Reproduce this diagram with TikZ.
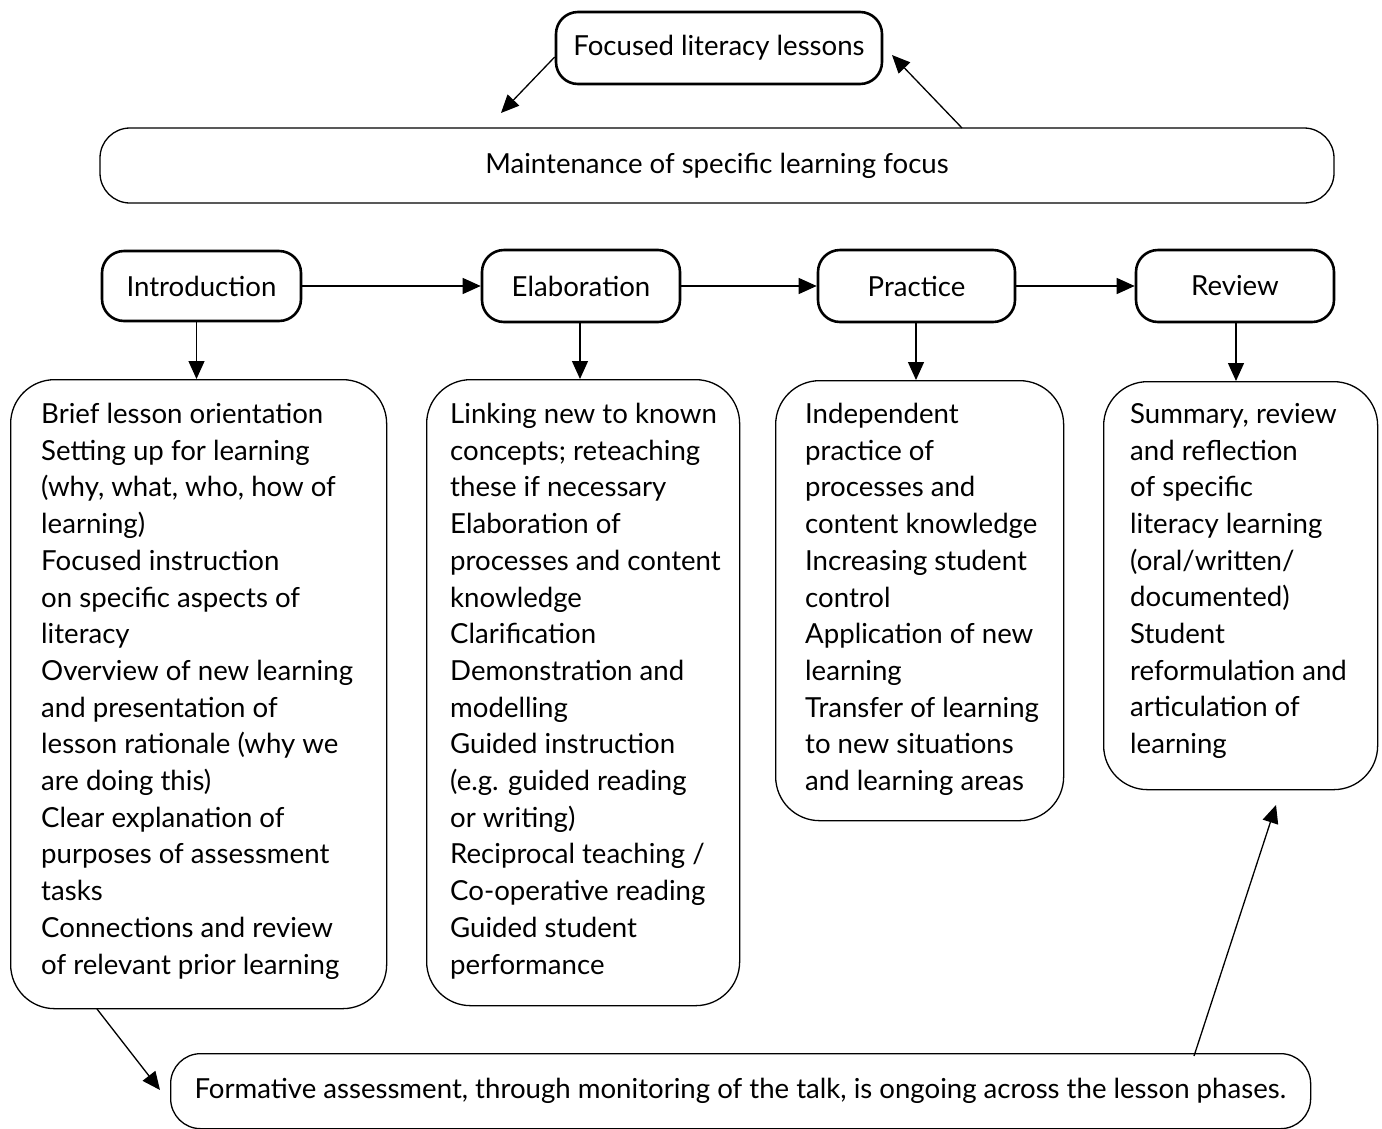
\documentclass[tikz,border=0pt]{standalone}
\usepackage{fontspec}
\setmainfont{Lato}
\usetikzlibrary{arrows.meta,calc}
\tikzset{
  thickbox/.style={draw,line width=2.6pt,rounded corners=22pt,inner sep=0pt},
  thinbox/.style={draw,line width=1.3pt,rounded corners=44pt,inner sep=0pt},
  txt/.style={inner sep=0pt,align=left,anchor=north west,font=\fontsize{27.6}{36.7}\selectfont},
  lbl/.style={font=\fontsize{27.6}{32}\selectfont},
  arr/.style={line width=1.3pt,-{Triangle[length=18pt,width=16pt]}},
}
\begin{document}
\begin{tikzpicture}[x=1pt,y=-1pt]
\useasboundingbox (0,0) rectangle (1382,1128);
% top
\node[thickbox,minimum width=326pt,minimum height=72pt] (f) at (719,48) {};
\node[lbl] (ft) at (f.center) {Focused literacy lessons};
\node[thinbox,rounded corners=30pt,minimum width=1234pt,minimum height=75pt] (m) at (717,165.5) {};
\node[lbl] (mt) at (m.center) {Maintenance of specific learning focus};
\coordinate (fa) at (501,113);
\coordinate (fb) at (892,55);
\draw[arr] (f.west) ++(0,9) coordinate (fs) (fs) -- (fa);
\coordinate (ms) at (962,128);
\draw[arr] (ms) -- (fb);
% phases
\node[thickbox,minimum width=199pt,minimum height=70pt] (p1) at (201.5,286) {};
\node[lbl] at (p1.center) {Introduction};
\node[thickbox,minimum width=198pt,minimum height=72pt] (p2) at (581,286) {};
\node[lbl] at (p2.center) {Elaboration};
\node[thickbox,minimum width=197pt,minimum height=72pt] (p3) at (916.5,286) {};
\node[lbl] at (p3.center) {Practice};
\node[thickbox,minimum width=198pt,minimum height=72pt] (p4) at (1235,286) {};
\node[lbl] at (p4.center) {Review};
\draw[arr] (p1.east) -- (p2.west);
\draw[arr] (p2.east) -- (p3.west);
\draw[arr] (p3.east) -- (p4.west);
% content boxes
\node[thinbox,minimum width=376pt,minimum height=629pt,anchor=north west] (c1) at (10,379) {};
\node[thinbox,minimum width=313pt,minimum height=626pt,anchor=north west] (c2) at (426,379) {};
\node[thinbox,minimum width=288pt,minimum height=440pt,anchor=north west] (c3) at (775,380) {};
\node[thinbox,minimum width=274pt,minimum height=408pt,anchor=north west] (c4) at (1103,381) {};
\draw[arr] ([xshift=-5pt]p1.south) -- ([xshift=-5pt]p1.south |- c1.north);
\draw[arr] ([xshift=-1pt]p2.south) -- ([xshift=-1pt]p2.south |- c2.north);
\draw[arr] ([xshift=-0.5pt]p3.south) -- ([xshift=-0.5pt]p3.south |- c3.north);
\draw[arr] ([xshift=1pt]p4.south) -- ([xshift=1pt]p4.south |- c4.north);
\node[txt] (t1) at (41,403) {Brief lesson orientation\\Setting up for learning\\(why, what, who, how of\\learning)\\Focused instruction\\on specific aspects of\\literacy\\Overview of new learning\\and presentation of\\lesson rationale (why we\\are doing this)\\Clear explanation of\\purposes of assessment\\tasks\\Connections and review\\of relevant prior learning};
\node[txt] (t2) at (450,403) {Linking new to known\\concepts; reteaching\\these if necessary\\Elaboration of\\processes and content\\knowledge\\Clarification\\Demonstration and\\modelling\\Guided instruction\\(e.g. guided reading\\or writing)\\Reciprocal teaching /\\Co-operative reading\\Guided student\\performance};
\node[txt] (t3) at (805,403) {Independent\\practice of\\processes and\\content knowledge\\Increasing student\\control\\Application of new\\learning\\Transfer of learning\\to new situations\\and learning areas};
\node[txt] (t4) at (1130,403) {Summary, review\\and reflection\\of specific\\literacy learning\\(oral/written/\\documented)\\Student\\reformulation and\\articulation of\\learning};
% formative
\node[thinbox,rounded corners=30pt,minimum width=1140pt,minimum height=75pt,anchor=north west] (fo) at (170,1053) {};
\node[lbl,anchor=west] (fot) at (191,1091) {Formative assessment, through monitoring of the talk, is ongoing across the lesson phases.};
\coordinate (c1s) at (97,1009);
\coordinate (foa) at (160,1090);
\draw[arr] (c1s) -- (foa);
\coordinate (fos) at (1194,1056);
\coordinate (c4a) at (1276,805);
\draw[arr] (fos) -- (c4a);
\end{tikzpicture}
\end{document}
